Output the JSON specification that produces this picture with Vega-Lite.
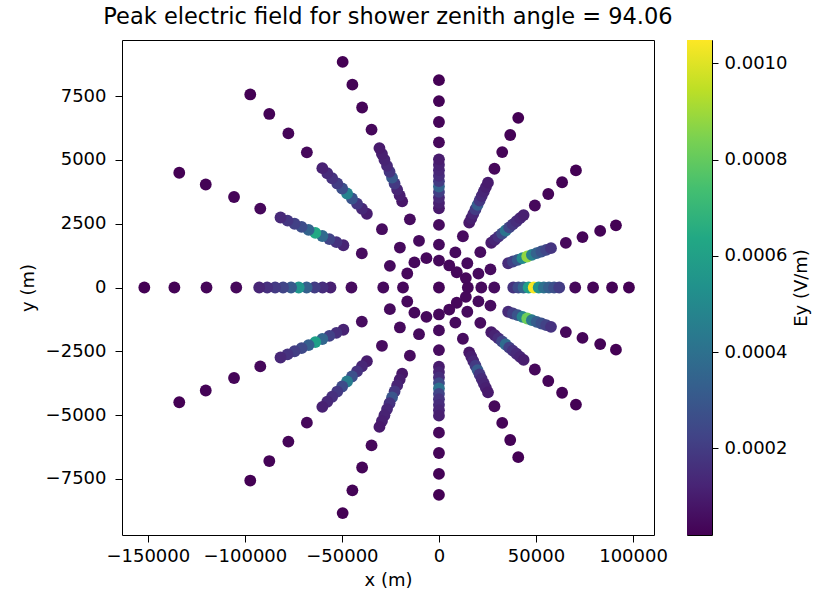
{
"$schema": "https://vega.github.io/schema/vega-lite/v6.json",
"padding": {"left": 18, "top": 5, "right": 5, "bottom": 5},
"background": "white",
"config": {
  "view": {"stroke": "black", "strokeWidth": 1},
  "axis": {"labelFont": "DejaVu Sans", "titleFont": "DejaVu Sans", "labelFontSize": 18, "titleFontSize": 18, "titleFontWeight": "normal", "labelColor": "black", "titleColor": "black", "tickColor": "black", "tickSize": 7, "tickWidth": 1, "domain": false, "grid": false}
},
"datasets": {"pts": [
{"x":0,"y":0,"Ey":0.00003},
{"x":14880,"y":0,"Ey":0.00004},{"x":21830,"y":0,"Ey":0.000045},{"x":28490,"y":0,"Ey":0.00005},
{"x":38280,"y":0,"Ey":0.000169},{"x":40920,"y":0,"Ey":0.000248},{"x":43570,"y":0,"Ey":0.000347},{"x":46210,"y":0,"Ey":0.000595},{"x":48850,"y":0,"Ey":0.00104},{"x":51400,"y":0,"Ey":0.000545},{"x":54040,"y":0,"Ey":0.000397},{"x":56680,"y":0,"Ey":0.000327},{"x":59330,"y":0,"Ey":0.000268},{"x":61970,"y":0,"Ey":0.000199},
{"x":70190,"y":0,"Ey":0.00004},{"x":79400,"y":0,"Ey":0.00003},{"x":89190,"y":0,"Ey":0.000025},{"x":97900,"y":0,"Ey":0.00002},

{"x":13860,"y":370,"Ey":0.00004},{"x":20340,"y":543,"Ey":0.000045},{"x":26540,"y":709,"Ey":0.00005},
{"x":35660,"y":952,"Ey":0.00015},{"x":38120,"y":1018,"Ey":0.000216},{"x":40580,"y":1084,"Ey":0.000299},{"x":43040,"y":1150,"Ey":0.000507},{"x":45500,"y":1216,"Ey":0.00088},{"x":47880,"y":1279,"Ey":0.000465},{"x":50340,"y":1345,"Ey":0.000341},{"x":52800,"y":1410,"Ey":0.000282},{"x":55260,"y":1476,"Ey":0.000233},{"x":57720,"y":1542,"Ey":0.000175},
{"x":65380,"y":1747,"Ey":0.00004},{"x":73960,"y":1976,"Ey":0.00003},{"x":83070,"y":2219,"Ey":0.000025},{"x":91190,"y":2436,"Ey":0.00002},

{"x":13860,"y":-370,"Ey":0.00004},{"x":20340,"y":-543,"Ey":0.000045},{"x":26540,"y":-709,"Ey":0.00005},
{"x":35660,"y":-952,"Ey":0.000142},{"x":38120,"y":-1018,"Ey":0.000204},{"x":40580,"y":-1084,"Ey":0.000281},{"x":43040,"y":-1150,"Ey":0.000474},{"x":45500,"y":-1216,"Ey":0.00082},{"x":47880,"y":-1279,"Ey":0.000435},{"x":50340,"y":-1345,"Ey":0.00032},{"x":52800,"y":-1410,"Ey":0.000266},{"x":55260,"y":-1476,"Ey":0.000219},{"x":57720,"y":-1542,"Ey":0.000166},
{"x":65380,"y":-1747,"Ey":0.00004},{"x":73960,"y":-1976,"Ey":0.00003},{"x":83070,"y":-2219,"Ey":0.000025},{"x":91190,"y":-2436,"Ey":0.00002},

{"x":9175,"y":597,"Ey":0.00004},{"x":14610,"y":950,"Ey":0.000045},{"x":21320,"y":1386,"Ey":0.00005},
{"x":26960,"y":1753,"Ey":0.000094},{"x":28800,"y":1873,"Ey":0.000124},{"x":30630,"y":1992,"Ey":0.000161},{"x":32540,"y":2116,"Ey":0.000254},{"x":34370,"y":2235,"Ey":0.00042},{"x":36210,"y":2355,"Ey":0.000235},{"x":38040,"y":2474,"Ey":0.00018},{"x":39950,"y":2598,"Ey":0.000154},{"x":41780,"y":2717,"Ey":0.000131},{"x":43620,"y":2837,"Ey":0.000106},
{"x":49410,"y":3213,"Ey":0.00004},{"x":56320,"y":3663,"Ey":0.00003},{"x":63450,"y":4126,"Ey":0.000025},{"x":70580,"y":4590,"Ey":0.00002},

{"x":9175,"y":-597,"Ey":0.00004},{"x":14610,"y":-950,"Ey":0.000045},{"x":21320,"y":-1386,"Ey":0.00005},
{"x":26960,"y":-1753,"Ey":0.00009},{"x":28800,"y":-1873,"Ey":0.000116},{"x":30630,"y":-1992,"Ey":0.000149},{"x":32540,"y":-2116,"Ey":0.000232},{"x":34370,"y":-2235,"Ey":0.00038},{"x":36210,"y":-2355,"Ey":0.000215},{"x":38040,"y":-2474,"Ey":0.000166},{"x":39950,"y":-2598,"Ey":0.000142},{"x":41780,"y":-2717,"Ey":0.000123},{"x":43620,"y":-2837,"Ey":0.0001},
{"x":49410,"y":-3213,"Ey":0.00004},{"x":56320,"y":-3663,"Ey":0.00003},{"x":63450,"y":-4126,"Ey":0.000025},{"x":70580,"y":-4590,"Ey":0.00002},

{"x":5311,"y":864,"Ey":0.00004},{"x":8456,"y":1376,"Ey":0.000045},{"x":12340,"y":2008,"Ey":0.00005},
{"x":15600,"y":2540,"Ey":0.000082},{"x":16670,"y":2713,"Ey":0.000104},{"x":17730,"y":2886,"Ey":0.000131},{"x":18830,"y":3065,"Ey":0.000199},{"x":19890,"y":3238,"Ey":0.00032},{"x":20960,"y":3411,"Ey":0.000185},{"x":22020,"y":3584,"Ey":0.000145},{"x":23120,"y":3763,"Ey":0.000126},{"x":24180,"y":3936,"Ey":0.000109},{"x":25250,"y":4109,"Ey":0.000091},
{"x":28600,"y":4654,"Ey":0.00004},{"x":32600,"y":5306,"Ey":0.00003},{"x":36720,"y":5977,"Ey":0.000025},{"x":40850,"y":6649,"Ey":0.00002},

{"x":5311,"y":-864,"Ey":0.00004},{"x":8456,"y":-1376,"Ey":0.000045},{"x":12340,"y":-2008,"Ey":0.00005},
{"x":15600,"y":-2540,"Ey":0.000081},{"x":16670,"y":-2713,"Ey":0.000102},{"x":17730,"y":-2886,"Ey":0.000128},{"x":18830,"y":-3065,"Ey":0.000193},{"x":19890,"y":-3238,"Ey":0.00031},{"x":20960,"y":-3411,"Ey":0.00018},{"x":22020,"y":-3584,"Ey":0.000141},{"x":23120,"y":-3763,"Ey":0.000123},{"x":24180,"y":-3936,"Ey":0.000107},{"x":25250,"y":-4109,"Ey":0.000089},
{"x":28600,"y":-4654,"Ey":0.00004},{"x":32600,"y":-5306,"Ey":0.00003},{"x":36720,"y":-5977,"Ey":0.000025},{"x":40850,"y":-6649,"Ey":0.00002},

{"x":0,"y":1056,"Ey":0.00004},{"x":0,"y":1682,"Ey":0.000045},{"x":0,"y":2454,"Ey":0.00005},
{"x":0,"y":3104,"Ey":0.000085},{"x":0,"y":3315,"Ey":0.000108},{"x":0,"y":3527,"Ey":0.000137},{"x":0,"y":3746,"Ey":0.00021},{"x":0,"y":3957,"Ey":0.00034},{"x":0,"y":4169,"Ey":0.000195},{"x":0,"y":4380,"Ey":0.000152},{"x":0,"y":4599,"Ey":0.000131},{"x":0,"y":4811,"Ey":0.000114},{"x":0,"y":5022,"Ey":0.000094},
{"x":0,"y":5688,"Ey":0.00004},{"x":0,"y":6485,"Ey":0.00003},{"x":0,"y":7305,"Ey":0.000025},{"x":0,"y":8126,"Ey":0.00002},

{"x":0,"y":-1056,"Ey":0.00004},{"x":0,"y":-1682,"Ey":0.000045},{"x":0,"y":-2454,"Ey":0.00005},
{"x":0,"y":-3104,"Ey":0.000092},{"x":0,"y":-3315,"Ey":0.00012},{"x":0,"y":-3527,"Ey":0.000155},{"x":0,"y":-3746,"Ey":0.000243},{"x":0,"y":-3957,"Ey":0.0004},{"x":0,"y":-4169,"Ey":0.000225},{"x":0,"y":-4380,"Ey":0.000173},{"x":0,"y":-4599,"Ey":0.000148},{"x":0,"y":-4811,"Ey":0.000127},{"x":0,"y":-5022,"Ey":0.000103},
{"x":0,"y":-5688,"Ey":0.00004},{"x":0,"y":-6485,"Ey":0.00003},{"x":0,"y":-7305,"Ey":0.000025},{"x":0,"y":-8126,"Ey":0.00002},

{"x":-6449,"y":1149,"Ey":0.00004},{"x":-10270,"y":1830,"Ey":0.000045},{"x":-14980,"y":2670,"Ey":0.00005},
{"x":-18950,"y":3378,"Ey":0.00008},{"x":-20240,"y":3608,"Ey":0.0001},{"x":-21530,"y":3837,"Ey":0.000125},{"x":-22870,"y":4076,"Ey":0.000188},{"x":-24160,"y":4306,"Ey":0.0003},{"x":-25450,"y":4536,"Ey":0.000175},{"x":-26740,"y":4766,"Ey":0.000138},{"x":-28080,"y":5005,"Ey":0.00012},{"x":-29370,"y":5234,"Ey":0.000105},{"x":-30660,"y":5464,"Ey":0.000088},
{"x":-34730,"y":6189,"Ey":0.00004},{"x":-39590,"y":7056,"Ey":0.00003},{"x":-44600,"y":7949,"Ey":0.000025},{"x":-49610,"y":8842,"Ey":0.00002},

{"x":-6449,"y":-1149,"Ey":0.00004},{"x":-10270,"y":-1830,"Ey":0.000045},{"x":-14980,"y":-2670,"Ey":0.00005},
{"x":-18950,"y":-3378,"Ey":0.000079},{"x":-20240,"y":-3608,"Ey":0.000098},{"x":-21530,"y":-3837,"Ey":0.000122},{"x":-22870,"y":-4076,"Ey":0.000182},{"x":-24160,"y":-4306,"Ey":0.00029},{"x":-25450,"y":-4536,"Ey":0.00017},{"x":-26740,"y":-4766,"Ey":0.000134},{"x":-28080,"y":-5005,"Ey":0.000117},{"x":-29370,"y":-5234,"Ey":0.000103},{"x":-30660,"y":-5464,"Ey":0.000086},
{"x":-34730,"y":-6189,"Ey":0.00004},{"x":-39590,"y":-7056,"Ey":0.00003},{"x":-44600,"y":-7949,"Ey":0.000025},{"x":-49610,"y":-8842,"Ey":0.00002},

{"x":-12640,"y":984,"Ey":0.00004},{"x":-20120,"y":1566,"Ey":0.000045},{"x":-29360,"y":2285,"Ey":0.00005},
{"x":-37140,"y":2890,"Ey":0.000102},{"x":-39670,"y":3087,"Ey":0.000136},{"x":-42190,"y":3284,"Ey":0.000179},{"x":-44820,"y":3488,"Ey":0.000287},{"x":-47350,"y":3685,"Ey":0.00048},{"x":-49870,"y":3881,"Ey":0.000265},{"x":-52400,"y":4078,"Ey":0.000201},{"x":-55030,"y":4282,"Ey":0.00017},{"x":-57550,"y":4479,"Ey":0.000145},{"x":-60080,"y":4676,"Ey":0.000115},
{"x":-68050,"y":5296,"Ey":0.00004},{"x":-77580,"y":6038,"Ey":0.00003},{"x":-87400,"y":6802,"Ey":0.000025},{"x":-97220,"y":7566,"Ey":0.00002},

{"x":-12640,"y":-984,"Ey":0.00004},{"x":-20120,"y":-1566,"Ey":0.000045},{"x":-29360,"y":-2285,"Ey":0.00005},
{"x":-37140,"y":-2890,"Ey":0.000098},{"x":-39670,"y":-3087,"Ey":0.00013},{"x":-42190,"y":-3284,"Ey":0.00017},{"x":-44820,"y":-3488,"Ey":0.00027},{"x":-47350,"y":-3685,"Ey":0.00045},{"x":-49870,"y":-3881,"Ey":0.00025},{"x":-52400,"y":-4078,"Ey":0.00019},{"x":-55030,"y":-4282,"Ey":0.000162},{"x":-57550,"y":-4479,"Ey":0.000138},{"x":-60080,"y":-4676,"Ey":0.00011},
{"x":-68050,"y":-5296,"Ey":0.00004},{"x":-77580,"y":-6038,"Ey":0.00003},{"x":-87400,"y":-6802,"Ey":0.000025},{"x":-97220,"y":-7566,"Ey":0.00002},

{"x":-16320,"y":549,"Ey":0.00004},{"x":-25290,"y":850,"Ey":0.000045},{"x":-39740,"y":1335,"Ey":0.00005},
{"x":-49240,"y":1655,"Ey":0.000121},{"x":-52850,"y":1776,"Ey":0.000168},{"x":-56460,"y":1897,"Ey":0.000227},{"x":-60080,"y":2019,"Ey":0.000375},{"x":-63690,"y":2140,"Ey":0.00064},{"x":-67170,"y":2257,"Ey":0.000345},{"x":-70780,"y":2378,"Ey":0.000257},{"x":-74390,"y":2500,"Ey":0.000215},{"x":-78010,"y":2621,"Ey":0.00018},{"x":-81620,"y":2743,"Ey":0.000139},
{"x":-92050,"y":3093,"Ey":0.00004},{"x":-105570,"y":3547,"Ey":0.00003},{"x":-120150,"y":4037,"Ey":0.000025},{"x":-133800,"y":4496,"Ey":0.00002},

{"x":-16320,"y":-549,"Ey":0.00004},{"x":-25290,"y":-850,"Ey":0.000045},{"x":-39740,"y":-1335,"Ey":0.00005},
{"x":-49240,"y":-1655,"Ey":0.000116},{"x":-52850,"y":-1776,"Ey":0.00016},{"x":-56460,"y":-1897,"Ey":0.000215},{"x":-60080,"y":-2019,"Ey":0.000353},{"x":-63690,"y":-2140,"Ey":0.0006},{"x":-67170,"y":-2257,"Ey":0.000325},{"x":-70780,"y":-2378,"Ey":0.000243},{"x":-74390,"y":-2500,"Ey":0.000204},{"x":-78010,"y":-2621,"Ey":0.000171},{"x":-81620,"y":-2743,"Ey":0.000133},
{"x":-92050,"y":-3093,"Ey":0.00004},{"x":-105570,"y":-3547,"Ey":0.00003},{"x":-120150,"y":-4037,"Ey":0.000025},{"x":-133800,"y":-4496,"Ey":0.00002},

{"x":-18520,"y":0,"Ey":0.00004},{"x":-28690,"y":0,"Ey":0.000045},{"x":-45080,"y":0,"Ey":0.00005},
{"x":-55860,"y":0,"Ey":0.000111},{"x":-59960,"y":0,"Ey":0.000152},{"x":-64060,"y":0,"Ey":0.000203},{"x":-68160,"y":0,"Ey":0.000331},{"x":-72260,"y":0,"Ey":0.00056},{"x":-76200,"y":0,"Ey":0.000305},{"x":-80300,"y":0,"Ey":0.000229},{"x":-84400,"y":0,"Ey":0.000193},{"x":-88500,"y":0,"Ey":0.000162},{"x":-92600,"y":0,"Ey":0.000127},
{"x":-104440,"y":0,"Ey":0.00004},{"x":-119770,"y":0,"Ey":0.00003},{"x":-136320,"y":0,"Ey":0.000025},{"x":-151800,"y":0,"Ey":0.00002}
],
"cbar": [{"lo": 0.0000203, "hi": 0.0010485}]
},
"bounds": "flush",
"spacing": 33,
"hconcat": [
{
  "width": 532, "height": 495,
  "title": {"text": "Peak electric field for shower zenith angle = 94.06", "font": "DejaVu Sans", "fontSize": 22.5, "fontWeight": "normal", "color": "black", "anchor": "middle", "offset": 12},
  "data": {"name": "pts"},
  "mark": {"type": "point", "shape": "circle", "filled": true, "size": 140, "opacity": 1, "strokeWidth": 0},
  "encoding": {
    "x": {"field": "x", "type": "quantitative", "scale": {"domain": [-163300, 110800], "nice": false, "zero": false},
          "axis": {"title": "x (m)", "values": [-150000, -100000, -50000, 0, 50000, 100000], "format": "d", "labelPadding": 5, "titlePadding": 6}},
    "y": {"field": "y", "type": "quantitative", "scale": {"domain": [-9700, 9700], "nice": false, "zero": false},
          "axis": {"title": "y (m)", "values": [-7500, -5000, -2500, 0, 2500, 5000, 7500], "format": "d", "labelPadding": 9, "titlePadding": 8}},
    "color": {"field": "Ey", "type": "quantitative", "scale": {"scheme": "viridis", "domain": [0.0000203, 0.0010485], "clamp": true}, "legend": null}
  }
},
{
  "width": 25, "height": 495,
  "data": {"name": "cbar"},
  "mark": {"type": "rect", "color": {"gradient": "linear", "x1": 0, "y1": 1, "x2": 0, "y2": 0,
    "stops": [
      {"offset": 0.0, "color": "#440154"}, {"offset": 0.1, "color": "#482475"}, {"offset": 0.2, "color": "#414487"},
      {"offset": 0.3, "color": "#355f8d"}, {"offset": 0.4, "color": "#2a788e"}, {"offset": 0.5, "color": "#21918c"},
      {"offset": 0.6, "color": "#22a884"}, {"offset": 0.7, "color": "#44bf70"}, {"offset": 0.8, "color": "#7ad151"},
      {"offset": 0.9, "color": "#bddf26"}, {"offset": 1.0, "color": "#fde725"}]}},
  "encoding": {
    "y": {"field": "lo", "type": "quantitative", "scale": {"domain": [0.0000203, 0.0010485], "nice": false, "zero": false},
          "axis": {"orient": "right", "title": "Ey (V/m)", "values": [0.0002, 0.0004, 0.0006, 0.0008, 0.001], "format": ".4f",
                   "labelPadding": 6, "tickSize": 6, "titleAngle": 270, "titleBaseline": "top", "titlePadding": 6}},
    "y2": {"field": "hi"}
  }
}
]
}
